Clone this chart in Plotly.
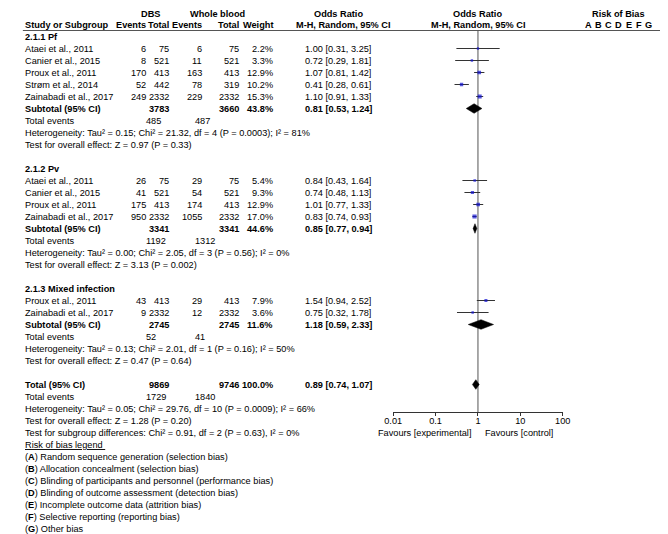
import plotly.graph_objects as go

W, H = 668, 534

# ---------------- data ----------------
pf_studies = ["Ataei et al., 2011", "Canier et al., 2015", "Proux et al., 2011", "Strøm et al., 2014", "Zainabadi et al., 2017"]
pf_dbs_events = [6, 8, 170, 52, 249]
pf_dbs_total = [75, 521, 413, 442, 2332]
pf_wb_events = [6, 11, 163, 78, 229]
pf_wb_total = [75, 521, 413, 319, 2332]
pf_weight = [2.2, 3.3, 12.9, 10.2, 15.3]
pf_or = [1.00, 0.72, 1.07, 0.41, 1.10]
pf_lo = [0.31, 0.29, 0.81, 0.28, 0.91]
pf_hi = [3.25, 1.81, 1.42, 0.61, 1.33]
pf_subtotal = [3783, 3660, 43.8, 0.81, 0.53, 1.24]
pf_events = [485, 487]
pf_het = "Heterogeneity: Tau² = 0.15; Chi² = 21.32, df = 4 (P = 0.0003); I² = 81%"
pf_test = "Test for overall effect: Z = 0.97 (P = 0.33)"

pv_studies = ["Ataei et al., 2011", "Canier et al., 2015", "Proux et al., 2011", "Zainabadi et al., 2017"]
pv_dbs_events = [26, 41, 175, 950]
pv_dbs_total = [75, 521, 413, 2332]
pv_wb_events = [29, 54, 174, 1055]
pv_wb_total = [75, 521, 413, 2332]
pv_weight = [5.4, 9.3, 12.9, 17.0]
pv_or = [0.84, 0.74, 1.01, 0.83]
pv_lo = [0.43, 0.48, 0.77, 0.74]
pv_hi = [1.64, 1.13, 1.33, 0.93]
pv_subtotal = [3341, 3341, 44.6, 0.85, 0.77, 0.94]
pv_events = [1192, 1312]
pv_het = "Heterogeneity: Tau² = 0.00; Chi² = 2.05, df = 3 (P = 0.56); I² = 0%"
pv_test = "Test for overall effect: Z = 3.13 (P = 0.002)"

mx_studies = ["Proux et al., 2011", "Zainabadi et al., 2017"]
mx_dbs_events = [43, 9]
mx_dbs_total = [413, 2332]
mx_wb_events = [29, 12]
mx_wb_total = [413, 2332]
mx_weight = [7.9, 3.6]
mx_or = [1.54, 0.75]
mx_lo = [0.94, 0.32]
mx_hi = [2.52, 1.78]
mx_subtotal = [2745, 2745, 11.6, 1.18, 0.59, 2.33]
mx_events = [52, 41]
mx_het = "Heterogeneity: Tau² = 0.13; Chi² = 2.01, df = 1 (P = 0.16); I² = 50%"
mx_test = "Test for overall effect: Z = 0.47 (P = 0.64)"

total_row = [9869, 9746, 100.0, 0.89, 0.74, 1.07]
total_events = [1729, 1840]
total_het = "Heterogeneity: Tau² = 0.05; Chi² = 29.76, df = 10 (P = 0.0009); I² = 66%"
total_test = "Test for overall effect: Z = 1.28 (P = 0.20)"
total_subgroup = "Test for subgroup differences: Chi² = 0.91, df = 2 (P = 0.63), I² = 0%"

group_names = ["2.1.1 Pf", "2.1.2 Pv", "2.1.3 Mixed infection"]

tick_vals = [0.01, 0.1, 1, 10, 100]
tick_text = ["0.01", "0.1", "1", "10", "100"]
bias_letters = ["A", "B", "C", "D", "E", "F", "G"]
bias_legend = [
    "Random sequence generation (selection bias)",
    "Allocation concealment (selection bias)",
    "Blinding of participants and personnel (performance bias)",
    "Blinding of outcome assessment (detection bias)",
    "Incomplete outcome data (attrition bias)",
    "Selective reporting (reporting bias)",
    "Other bias",
]

# ---------------- layout constants ----------------
FONT = "Liberation Sans, Arial, sans-serif"
FS = 9.2
ROW0 = 28.5
ROWH = 12.0
X_NAME = 6
X_DBS_EV = 134
X_DBS_TOT = 158
X_WB_EV = 192
X_WB_TOT = 230
X_WT = 265
X_OR = 293
X_TE1 = 130
X_TE2 = 181
AX_L, AX_R = 386, 560
AX_Y = 404
HDR_LINE_Y = 22.5


def rowy(k):
    return ROW0 + (k - 1) * ROWH


ann = []


def txt(x, y, s, anchor="left", bold=False, size=FS):
    if bold:
        s = "<b>" + s + "</b>"
    ann.append(dict(x=x, y=y, xref="x", yref="y", text=s, showarrow=False,
                    xanchor=anchor, yanchor="middle",
                    font=dict(family=FONT, size=size, color="#000")))


# headers
txt(137, 5.5, "DBS", "center", True)
txt(206, 5.5, "Whole blood", "center", True)
txt(330, 5.5, "Odds Ratio", "center", True)
txt(473, 5.5, "Odds Ratio", "center", True)
txt(617, 5.5, "Risk of Bias", "center", True)
y2 = 16.5
txt(X_NAME, y2, "Study or Subgroup", "left", True)
txt(X_DBS_EV, y2, "Events", "right", True)
txt(X_DBS_TOT, y2, "Total", "right", True)
txt(X_WB_EV, y2, "Events", "right", True)
txt(X_WB_TOT, y2, "Total", "right", True)
txt(X_WT, y2, "Weight", "right", True)
txt(335, y2, "M-H, Random, 95% CI", "center", True)
txt(473, y2, "M-H, Random, 95% CI", "center", True)
for i, L in enumerate(bias_letters):
    txt(586 + i * 10.4, y2, L, "center", True)

ci_x, ci_y = [], []
sq_x, sq_y, sq_s = [], [], []
diamonds = []


def fmt_or(o, lo, hi):
    return f"{o:.2f} [{lo:.2f}, {hi:.2f}]"


groups = [
    (pf_studies, pf_dbs_events, pf_dbs_total, pf_wb_events, pf_wb_total, pf_weight, pf_or, pf_lo, pf_hi,
     pf_subtotal, pf_events, pf_het, pf_test),
    (pv_studies, pv_dbs_events, pv_dbs_total, pv_wb_events, pv_wb_total, pv_weight, pv_or, pv_lo, pv_hi,
     pv_subtotal, pv_events, pv_het, pv_test),
    (mx_studies, mx_dbs_events, mx_dbs_total, mx_wb_events, mx_wb_total, mx_weight, mx_or, mx_lo, mx_hi,
     mx_subtotal, mx_events, mx_het, mx_test),
]

k = 1
for gname, g in zip(group_names, groups):
    studies, de, dt, we, wt, wgt, o, lo, hi, sub, ev, het, test = g
    txt(X_NAME, rowy(k), gname, "left", True)
    k += 1
    for i in range(len(studies)):
        y = rowy(k)
        txt(X_NAME, y, studies[i])
        txt(X_DBS_EV, y, str(de[i]), "right")
        txt(X_DBS_TOT, y, str(dt[i]), "right")
        txt(X_WB_EV, y, str(we[i]), "right")
        txt(X_WB_TOT, y, str(wt[i]), "right")
        txt(X_WT, y, f"{wgt[i]:.1f}%", "right")
        txt(X_OR, y, fmt_or(o[i], lo[i], hi[i]))
        ci_x += [lo[i], hi[i], None]
        ci_y += [y, y, None]
        sq_x.append(o[i]); sq_y.append(y); sq_s.append(2.0 + 0.13 * wgt[i])
        k += 1
    y = rowy(k)
    txt(X_NAME, y, "Subtotal (95% CI)", "left", True)
    txt(X_DBS_TOT, y, str(sub[0]), "right", True)
    txt(X_WB_TOT, y, str(sub[1]), "right", True)
    txt(X_WT, y, f"{sub[2]:.1f}%", "right", True)
    txt(X_OR, y, fmt_or(sub[3], sub[4], sub[5]), "left", True)
    diamonds.append((sub[3], sub[4], sub[5], y))
    k += 1
    y = rowy(k)
    txt(X_NAME, y, "Total events")
    txt(X_TE1, y, str(ev[0]))
    txt(X_TE2, y, str(ev[1]))
    k += 1
    txt(X_NAME, rowy(k), het)
    k += 1
    txt(X_NAME, rowy(k), test)
    k += 2

# overall
y = rowy(k)
txt(X_NAME, y, "Total (95% CI)", "left", True)
txt(X_DBS_TOT, y, str(total_row[0]), "right", True)
txt(X_WB_TOT, y, str(total_row[1]), "right", True)
txt(X_WT, y, f"{total_row[2]:.1f}%", "right", True)
txt(X_OR, y, fmt_or(total_row[3], total_row[4], total_row[5]), "left", True)
diamonds.append((total_row[3], total_row[4], total_row[5], y))
k += 1
y = rowy(k)
txt(X_NAME, y, "Total events")
txt(X_TE1, y, str(total_events[0]))
txt(X_TE2, y, str(total_events[1]))
k += 1
txt(X_NAME, rowy(k), total_het); k += 1
txt(X_NAME, rowy(k), total_test); k += 1
txt(X_NAME, rowy(k), total_subgroup); k += 1
txt(X_NAME, rowy(k), "<u>Risk of bias legend </u>"); k += 1
for L, s in zip(bias_letters, bias_legend):
    txt(X_NAME, rowy(k), f"(<b>{L}</b>) {s}")
    k += 1

# favours labels
txt(468, 425, "Favours [experimental]", "right")
txt(478, 425, "Favours [control]", "left")

fig = go.Figure()

# vertical line of no effect
fig.add_trace(go.Scatter(x=[1, 1], y=[HDR_LINE_Y, AX_Y], mode="lines",
                         line=dict(color="#555", width=1), xaxis="x2", yaxis="y2",
                         hoverinfo="skip", showlegend=False))
# CI lines
fig.add_trace(go.Scatter(x=ci_x, y=ci_y, mode="lines", line=dict(color="#333", width=1),
                         xaxis="x2", yaxis="y2", hoverinfo="skip", showlegend=False))
# squares
fig.add_trace(go.Scatter(x=sq_x, y=sq_y, mode="markers",
                         marker=dict(symbol="square", size=sq_s, color="#1010d0", line=dict(width=0)),
                         xaxis="x2", yaxis="y2", hoverinfo="skip", showlegend=False))
# diamonds
DH = 4.8
for est, lo, hi, y in diamonds:
    fig.add_trace(go.Scatter(x=[lo, est, hi, est, lo], y=[y, y - DH, y, y + DH, y], mode="lines",
                             fill="toself", fillcolor="#000", line=dict(color="#000", width=0.5),
                             xaxis="x2", yaxis="y2", hoverinfo="skip", showlegend=False))

fig.update_layout(
    width=W, height=H,
    margin=dict(l=0, r=0, t=0, b=0),
    paper_bgcolor="white", plot_bgcolor="rgba(0,0,0,0)",
    showlegend=False,
    annotations=ann,
    xaxis=dict(range=[0, W], domain=[0, 1], visible=False, fixedrange=True),
    yaxis=dict(range=[H, 0], domain=[0, 1], visible=False, fixedrange=True),
    xaxis2=dict(type="log", range=[-2, 2], domain=[AX_L / W, AX_R / W], anchor="y2",
                showline=True, linecolor="#333", linewidth=1, ticks="outside", ticklen=3,
                tickcolor="#333", tickwidth=1, tickvals=tick_vals, ticktext=tick_text,
                ticklabelstandoff=-3,
                tickfont=dict(family=FONT, size=FS, color="#000"), showgrid=False, zeroline=False,
                fixedrange=True),
    yaxis2=dict(range=[AX_Y, 0], domain=[(H - AX_Y) / H, 1], visible=False, fixedrange=True),
    shapes=[dict(type="line", xref="x", yref="y", x0=6, x1=663, y0=HDR_LINE_Y, y1=HDR_LINE_Y,
                 line=dict(color="#555", width=1))],
)

fig.write_html("out.html")
